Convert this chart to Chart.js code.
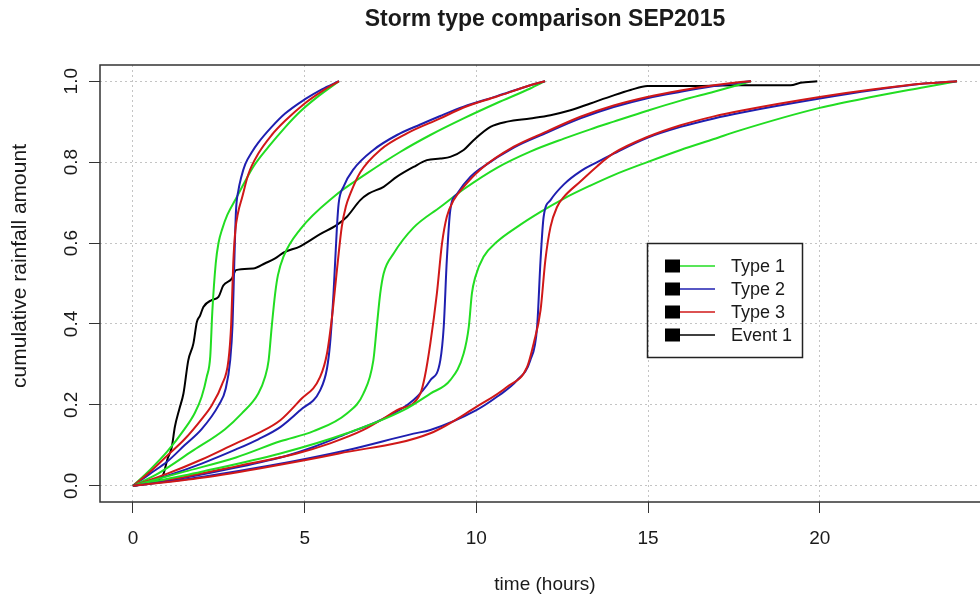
<!DOCTYPE html>
<html>
<head>
<meta charset="utf-8">
<title>Storm type comparison SEP2015</title>
<script src="https://cdn.jsdelivr.net/npm/chart.js@4.4.1/dist/chart.umd.min.js"></script>
<style>
  html, body { margin: 0; padding: 0; background: #fff; overflow: hidden; }
  canvas { display: block; }
</style>
</head>
<body>
<canvas id="stormChart" width="1000" height="601"></canvas>
<script>
const xTicks = [0, 5, 10, 15, 20];
const yTicks = [0, 0.2, 0.4, 0.6, 0.8, 1.0];
const yTickLabels = ['0.0', '0.2', '0.4', '0.6', '0.8', '1.0'];
const legendNames = ['Type 1', 'Type 2', 'Type 3', 'Event 1'];

// [time (h), cumulative fraction]
const type1_6h = [[0,0],[0.5,0.04],[1,0.085],[1.5,0.14],[1.8,0.18],[2,0.22],[2.15,0.27],[2.25,0.32],[2.31,0.43],[2.41,0.55],[2.49,0.6],[2.6,0.635],[2.75,0.67],[3,0.71],[3.25,0.75],[3.5,0.788],[3.95,0.838],[4.43,0.886],[4.87,0.925],[5.4,0.963],[6,1]];
const type2_6h = [[0,0],[0.5,0.03],[1,0.06],[1.5,0.1],[2,0.14],[2.5,0.2],[2.7,0.24],[2.83,0.31],[2.9,0.4],[2.95,0.55],[3,0.68],[3.07,0.73],[3.15,0.762],[3.27,0.795],[3.45,0.823],[3.65,0.848],[4.04,0.887],[4.43,0.92],[5,0.955],[5.5,0.98],[6,1]];
const type3_6h = [[0,0],[0.5,0.035],[1,0.075],[1.5,0.115],[2,0.165],[2.3,0.2],[2.59,0.25],[2.78,0.31],[2.86,0.4],[2.92,0.55],[2.98,0.63],[3.06,0.675],[3.17,0.71],[3.36,0.77],[3.65,0.821],[4.04,0.867],[4.43,0.902],[5,0.945],[5.5,0.975],[6,1]];

const type1_12h = [[0,0],[0.74,0.031],[1.71,0.085],[2.68,0.14],[3.17,0.179],[3.65,0.228],[3.85,0.27],[3.95,0.31],[4.04,0.393],[4.14,0.475],[4.22,0.52],[4.38,0.566],[4.87,0.634],[5.84,0.714],[6.81,0.772],[7.78,0.825],[8.66,0.867],[9.63,0.908],[10.6,0.946],[11.57,0.982],[12,1]];
const type2_12h = [[0,0],[1,0.025],[2,0.055],[3,0.09],[3.65,0.115],[4.29,0.145],[4.87,0.187],[5.45,0.236],[5.65,0.29],[5.74,0.352],[5.84,0.475],[5.94,0.64],[5.99,0.698],[6.13,0.739],[6.42,0.782],[7,0.83],[7.69,0.867],[8.37,0.893],[8.95,0.914],[9.63,0.937],[10.6,0.963],[11.57,0.99],[12,1]];
const type3_12h = [[0,0],[1,0.03],[2,0.065],[3,0.105],[3.65,0.13],[4.29,0.162],[4.87,0.212],[5.45,0.269],[5.65,0.327],[5.8,0.42],[5.96,0.55],[6.08,0.64],[6.2,0.69],[6.33,0.722],[6.62,0.775],[7.2,0.83],[7.98,0.871],[8.95,0.908],[9.63,0.935],[10.6,0.962],[11.57,0.99],[12,1]];

const type1_18h = [[0,0],[1.5,0.035],[3,0.07],[4.29,0.11],[5.26,0.135],[6.23,0.179],[6.71,0.228],[7,0.31],[7.1,0.393],[7.2,0.475],[7.3,0.525],[7.59,0.574],[8.17,0.638],[8.95,0.689],[9.63,0.733],[10.6,0.786],[11.57,0.826],[12.55,0.858],[13.32,0.881],[14,0.9],[14.98,0.927],[15.95,0.952],[16.92,0.974],[17.6,0.99],[18,1]];
const type2_18h = [[0,0],[1.5,0.02],[3,0.045],[4.5,0.075],[5.26,0.096],[6.23,0.129],[7.2,0.162],[8.17,0.212],[8.66,0.261],[8.95,0.31],[9.05,0.393],[9.14,0.558],[9.24,0.681],[9.44,0.722],[9.83,0.764],[10.12,0.784],[11.09,0.836],[12.06,0.873],[13.03,0.908],[14,0.936],[14.98,0.958],[15.95,0.974],[16.92,0.988],[17.7,0.997],[18,1]];
const type3_18h = [[0,0],[1.5,0.022],[3,0.048],[4.77,0.08],[5.74,0.105],[6.71,0.138],[7.69,0.187],[8.37,0.228],[8.5,0.27],[8.66,0.352],[8.85,0.475],[9,0.599],[9.14,0.665],[9.34,0.706],[9.63,0.739],[10.12,0.782],[11.09,0.838],[12.06,0.876],[13.03,0.912],[14,0.94],[14.98,0.961],[15.95,0.977],[16.92,0.99],[17.7,0.998],[18,1]];

const type1_24h = [[0,0],[2,0.035],[4.29,0.08],[6.23,0.13],[7.88,0.187],[8.66,0.228],[9.24,0.261],[9.63,0.327],[9.78,0.393],[9.87,0.475],[9.97,0.516],[10.21,0.566],[10.6,0.603],[11.19,0.64],[11.87,0.677],[12.55,0.71],[13.32,0.742],[14,0.768],[14.98,0.8],[15.95,0.83],[16.92,0.857],[17.7,0.879],[20,0.934],[21.58,0.962],[23.04,0.985],[24,1]];
const type2_24h = [[0,0],[2,0.022],[4,0.05],[6.23,0.088],[8.17,0.129],[8.66,0.138],[10,0.187],[10.6,0.22],[11.19,0.261],[11.57,0.31],[11.77,0.393],[11.87,0.558],[11.96,0.665],[12.16,0.706],[12.55,0.745],[13.03,0.777],[13.52,0.8],[14,0.821],[14.98,0.86],[15.95,0.887],[16.92,0.908],[17.7,0.922],[20,0.957],[21.58,0.978],[23.04,0.994],[24,1]];
const type3_24h = [[0,0],[2,0.02],[4,0.048],[6,0.08],[8.66,0.13],[10,0.195],[10.9,0.245],[11.48,0.294],[11.67,0.352],[11.87,0.434],[12.01,0.558],[12.16,0.64],[12.35,0.689],[12.55,0.714],[13.03,0.752],[13.52,0.79],[14,0.822],[14.98,0.862],[15.95,0.891],[16.92,0.913],[17.7,0.927],[20,0.961],[21.58,0.98],[23.04,0.994],[24,1]];

const event1 = [[0,0],[0.5,0.008],[0.87,0.026],[1,0.065],[1.13,0.096],[1.22,0.146],[1.35,0.19],[1.47,0.228],[1.61,0.31],[1.76,0.352],[1.86,0.405],[1.95,0.42],[2.05,0.442],[2.29,0.459],[2.49,0.467],[2.63,0.495],[2.88,0.512],[3,0.533],[3.5,0.537],[3.85,0.55],[4.14,0.562],[4.38,0.576],[4.87,0.592],[5.45,0.622],[5.94,0.645],[6.23,0.665],[6.62,0.706],[6.86,0.722],[7.3,0.739],[7.69,0.764],[8.17,0.788],[8.56,0.805],[8.95,0.809],[9.24,0.813],[9.63,0.83],[9.92,0.854],[10.41,0.887],[10.9,0.9],[11.57,0.908],[12.16,0.916],[12.74,0.928],[13.32,0.945],[14,0.965],[14.49,0.978],[14.98,0.988],[16,0.988],[17.7,0.99],[19.15,0.99],[19.44,0.996],[19.93,1]];

const GREEN = '#22dd22';
const BLUE = '#1f1fb0';
const RED = '#d01818';
const BLACK = '#000000';
const FONT = '"Liberation Sans", Arial, sans-serif';

// bottom to top drawing order
const curves = [
    [event1, BLACK],
    [type1_6h, GREEN], [type2_6h, BLUE], [type3_6h, RED],
    [type1_12h, GREEN], [type2_12h, BLUE], [type3_12h, RED],
    [type1_18h, GREEN], [type2_18h, BLUE], [type3_18h, RED],
    [type1_24h, GREEN], [type2_24h, BLUE], [type3_24h, RED]
];

const datasets = curves.map(([pts, color], i) => ({
    data: pts,
    borderColor: color,
    borderWidth: 2,
    pointRadius: 0,
    fill: false,
    cubicInterpolationMode: 'monotone',
    order: curves.length - i
}));

// R-style frame, titles, rotated y labels and legend
const rDecor = {
    id: 'rDecor',
    afterDraw(chart) {
        const { ctx, chartArea: a, scales } = chart;
        const midX = (a.left + a.right) / 2;
        ctx.save();
        ctx.strokeStyle = '#333';
        ctx.lineWidth = 1.5;
        ctx.strokeRect(a.left, a.top, a.right - a.left, a.bottom - a.top);

        ctx.fillStyle = '#1a1a1a';
        ctx.textAlign = 'center';
        ctx.textBaseline = 'middle';
        ctx.font = 'bold 23px ' + FONT;
        ctx.fillText('Storm type comparison SEP2015', midX, 20);

        ctx.font = '19px ' + FONT;
        ctx.fillText('time (hours)', midX, 585);

        yTicks.forEach((v, i) => {
            ctx.save();
            ctx.translate(72, scales.y.getPixelForValue(v));
            ctx.rotate(-Math.PI / 2);
            ctx.fillText(yTickLabels[i], 0, 0);
            ctx.restore();
        });

        ctx.save();
        ctx.translate(20, 266);
        ctx.rotate(-Math.PI / 2);
        ctx.font = '21px ' + FONT;
        ctx.fillText('cumulative rainfall amount', 0, 0);
        ctx.restore();

        // legend
        const colors = [GREEN, BLUE, RED, BLACK];
        ctx.strokeStyle = '#222';
        ctx.lineWidth = 1.5;
        ctx.strokeRect(647.5, 243.5, 155, 114);
        ctx.font = '18px ' + FONT;
        ctx.textAlign = 'left';
        legendNames.forEach((name, i) => {
            const yy = 266 + i * 23;
            ctx.fillStyle = '#000';
            ctx.fillRect(665, yy - 6.5, 15, 13);
            ctx.strokeStyle = colors[i];
            ctx.lineWidth = 1.5;
            ctx.beginPath();
            ctx.moveTo(680, yy);
            ctx.lineTo(715, yy);
            ctx.stroke();
            ctx.fillStyle = '#1a1a1a';
            ctx.fillText(name, 731, yy + 1);
        });
        ctx.restore();
    }
};

new Chart(document.getElementById('stormChart'), {
    type: 'line',
    data: { datasets: datasets },
    options: {
        responsive: false,
        animation: false,
        devicePixelRatio: 1,
        layout: { padding: { top: 65, right: 10, left: 0, bottom: 0 } },
        plugins: {
            legend: { display: false },
            tooltip: { enabled: false },
            title: { display: false }
        },
        scales: {
            x: {
                type: 'linear',
                min: -0.961,
                max: 24.96,
                afterBuildTicks: (scale) => { scale.ticks = xTicks.map(v => ({ value: v })); },
                afterFit: (scale) => { scale.height = 99; },
                grid: {
                    color: '#c4c4c4',
                    lineWidth: 1,
                    tickLength: 11,
                    tickColor: '#333',
                    tickWidth: 1,
                    tickBorderDash: []
                },
                border: { display: false, dash: [2, 3] },
                ticks: {
                    font: { family: FONT, size: 19 },
                    color: '#1a1a1a',
                    padding: 14,
                    maxRotation: 0,
                    autoSkip: false
                }
            },
            y: {
                type: 'linear',
                min: -0.04,
                max: 1.04,
                afterBuildTicks: (scale) => { scale.ticks = yTicks.map(v => ({ value: v })); },
                afterFit: (scale) => { scale.width = 100; },
                grid: {
                    color: '#c4c4c4',
                    lineWidth: 1,
                    tickLength: 11,
                    tickColor: '#333',
                    tickWidth: 1,
                    tickBorderDash: []
                },
                border: { display: false, dash: [2, 3] },
                ticks: { display: false }
            }
        }
    },
    plugins: [rDecor]
});
</script>
</body>
</html>
